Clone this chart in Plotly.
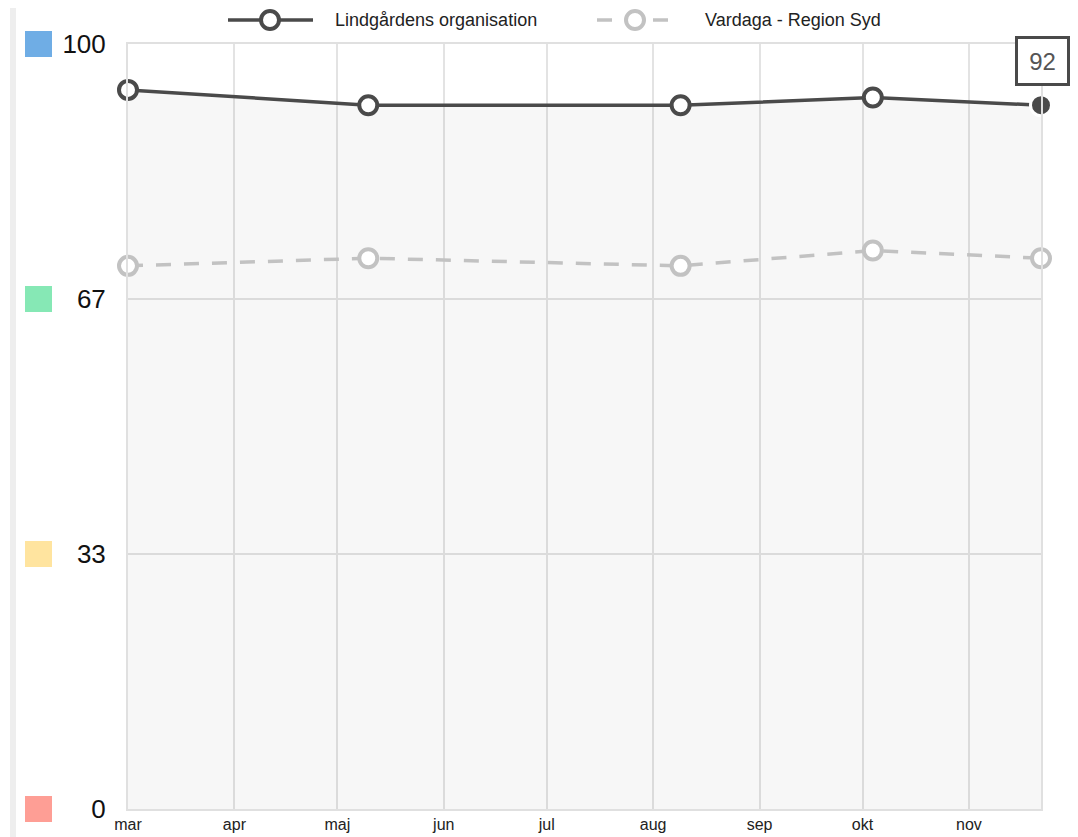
import plotly.graph_objects as go

# ---- data ----
dates = ["2023-03-01", "2023-05-10", "2023-08-09", "2023-10-04", "2023-11-22"]
lindgarden = [94, 92, 92, 93, 92]
vardaga = [71, 72, 71, 73, 72]

month_ticks = ["2023-03-01", "2023-04-01", "2023-05-01", "2023-06-01", "2023-07-01",
               "2023-08-01", "2023-09-01", "2023-10-01", "2023-11-01"]
month_labels = ["mar", "apr", "maj", "jun", "jul", "aug", "sep", "okt", "nov"]

y_ticks = [0, 100 / 3, 200 / 3, 100]
y_labels = ["0", "33", "67", "100"]
y_colors = ["#fe9e95", "#ffe49f", "#86e8b5", "#6fade5"]

name_a = "Lindgårdens organisation"
name_b = "Vardaga - Region Syd"

# ---- layout constants (page has an 8px body margin) ----
OFF = 8
W, H = 1078 - OFF, 837 - OFF
L, R, T, B = 128 - OFF, 37, 44 - OFF, 28
PW = W - L - R
PH = H - T - B
FONT = "Liberation Sans, Arial, sans-serif"
DARK = "#4a4a4a"
GREY = "#c2c2c2"
DASH = "15px,13px"


def px_x(p):
    """page pixel x -> paper x"""
    return (p - OFF - L) / PW


def px_y(p):
    """page pixel y -> paper y"""
    return (H - B - (p - OFF)) / PH


fig = go.Figure()

fig.add_trace(go.Scatter(
    x=dates, y=lindgarden, name=name_a, mode="lines+markers",
    line=dict(color=DARK, width=3.5),
    marker=dict(size=18, color="white", line=dict(color=DARK, width=4)),
    fill="tozeroy", fillcolor="rgba(0,0,0,0.03)",
    cliponaxis=False, hoverinfo="skip", showlegend=False,
))
fig.add_trace(go.Scatter(
    x=dates, y=vardaga, name=name_b, mode="lines+markers",
    line=dict(color=GREY, width=3.5, dash=DASH),
    marker=dict(size=18, color="white", line=dict(color=GREY, width=4)),
    cliponaxis=False, hoverinfo="skip", showlegend=False,
))
# highlighted last point
fig.add_trace(go.Scatter(
    x=[dates[-1]], y=[lindgarden[-1]], mode="markers", showlegend=False,
    marker=dict(size=21, color=DARK, line=dict(color="white", width=3)),
    cliponaxis=False, hoverinfo="skip",
))

shapes = []
annotations = []
# left grey stripe
shapes.append(dict(type="rect", xref="paper", yref="paper",
                   x0=px_x(10), x1=px_x(16), y0=px_y(845), y1=px_y(0),
                   fillcolor="#eeeeee", line=dict(width=0), layer="below"))
# coloured squares at y tick labels
for v, c in zip(y_ticks, y_colors):
    shapes.append(dict(type="rect", xref="paper", yref="paper",
                       xsizemode="pixel", xanchor=px_x(38.5), x0=-13.5, x1=13.5,
                       ysizemode="pixel", yanchor=v / 100.0, y0=-13, y1=13,
                       fillcolor=c, line=dict(width=0)))

# legend drawn by hand (line + open marker + text)
legend_items = [
    (name_a, DARK, "solid", 228, 313, 270, 333),
    (name_b, GREY, DASH, 597, 680, 635, 703),
]
for name, col, dash, xa, xb, xm, xt in legend_items:
    shapes.append(dict(type="line", xref="paper", yref="paper",
                       x0=px_x(xa), x1=px_x(xb), y0=px_y(20), y1=px_y(20),
                       line=dict(color=col, width=3.5, dash=dash)))
    shapes.append(dict(type="circle", xref="paper", yref="paper",
                       xsizemode="pixel", xanchor=px_x(xm), x0=-9, x1=9,
                       ysizemode="pixel", yanchor=px_y(20), y0=-9, y1=9,
                       fillcolor="white", line=dict(color=col, width=4)))
    annotations.append(dict(xref="paper", yref="paper", x=px_x(xt), y=px_y(20),
                            xanchor="left", yanchor="middle", showarrow=False,
                            text=name,
                            font=dict(family=FONT, size=18, color="#222222")))

annotations.append(dict(
    x=dates[-1], y=lindgarden[-1], xref="x", yref="y",
    text=str(lindgarden[-1]), showarrow=True, arrowcolor="rgba(0,0,0,0)",
    arrowwidth=0.1, arrowhead=0, ax=1, ay=-44,
    font=dict(family=FONT, size=24, color="#555555"),
    bgcolor="white", bordercolor=DARK, borderwidth=3, borderpad=0,
    width=49, height=44,
))

fig.update_layout(
    width=W, height=H,
    margin=dict(l=L, r=R, t=T, b=B, autoexpand=False),
    paper_bgcolor="white", plot_bgcolor="white",
    font=dict(family=FONT, color="#222222"),
    shapes=shapes, annotations=annotations,
    showlegend=False,
    xaxis=dict(
        type="date", range=[dates[0], dates[-1]], automargin=False,
        tickmode="array", tickvals=month_ticks, ticktext=month_labels,
        showgrid=True, gridcolor="#e3e3e3", gridwidth=2,
        showline=True, linecolor="#e0e0e0", linewidth=2, mirror=True,
        ticks="", tickfont=dict(family=FONT, size=16, color="#222222"),
        zeroline=False, fixedrange=True,
    ),
    yaxis=dict(
        range=[0, 100], tickmode="array", tickvals=y_ticks, ticktext=y_labels,
        automargin=False,
        showgrid=True, gridcolor="#e3e3e3", gridwidth=2,
        showline=True, linecolor="#e0e0e0", linewidth=2, mirror=True,
        ticks="", ticklabelstandoff=15,
        tickfont=dict(family=FONT, size=26, color="#111111"),
        zeroline=False, fixedrange=True,
    ),
)

fig.write_html("out.html")
